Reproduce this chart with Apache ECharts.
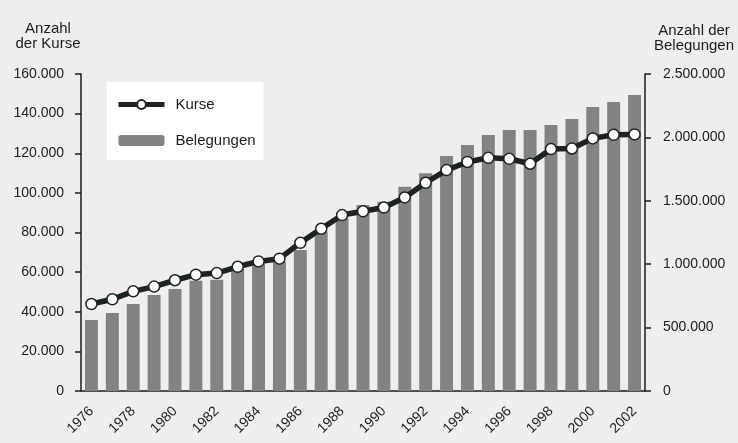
<!DOCTYPE html>
<html>
<head>
<meta charset="utf-8">
<script src="https://cdn.jsdelivr.net/npm/echarts@6/dist/echarts.min.js"></script>
<style>
  html, body { margin: 0; padding: 0; background: #efedee; }
  #main { width: 738px; height: 443px; }
</style>
</head>
<body>
<div id="main"></div>
<script>
// Jahre
const years = ['1976', '1977', '1978', '1979', '1980', '1981', '1982', '1983', '1984',
    '1985', '1986', '1987', '1988', '1989', '1990', '1991', '1992', '1993', '1994',
    '1995', '1996', '1997', '1998', '1999', '2000', '2001', '2002'];

// Anzahl der Kurse (linke Achse)
const kurse = [43900, 46300, 50300, 52700, 55900, 58700, 59500, 62700, 65400,
    66800, 74800, 81900, 88800, 90700, 92600, 97700, 105100, 111500, 115600,
    117700, 117200, 114700, 122100, 122400, 127500, 129300, 129500];

// Anzahl der Belegungen (rechte Achse)
const belegungen = [560000, 615000, 686000, 757000, 804000, 870000, 878000, 962000, 1000000,
    1020000, 1112000, 1256000, 1362000, 1467000, 1493000, 1611000, 1717000, 1853000, 1940000,
    2019000, 2058000, 2058000, 2098000, 2145000, 2240000, 2279000, 2334000];

const chart = echarts.init(document.getElementById('main'), null, { renderer: 'canvas' });

const fmt = v => String(v).replace(/\B(?=(\d{3})+(?!\d))/g, '.');
const font = 'Liberation Sans';

let option = {
    backgroundColor: '#efedee',
    textStyle: { fontFamily: font, color: '#1d1d1b' },
    graphic: [
        {
            type: 'text', x: 48, y: 21,
            style: { text: 'Anzahl\nder Kurse', font: '15px ' + font, fill: '#1d1d1b', align: 'center', lineHeight: 15 }
        },
        {
            type: 'text', x: 694, y: 23,
            style: { text: 'Anzahl der\nBelegungen', font: '15px ' + font, fill: '#1d1d1b', align: 'center', lineHeight: 15 }
        }
    ],
    legend: {
        orient: 'vertical',
        left: 107,
        top: 82,
        backgroundColor: '#ffffff',
        padding: [15, 8, 12, 9],
        itemWidth: 46,
        itemHeight: 11,
        itemGap: 21,
        lineStyle: { width: 5 },
        textStyle: { fontFamily: font, fontSize: 15, color: '#1d1d1b', padding: [0, 0, 0, 6] },
        data: ['Kurse', 'Belegungen']
    },
    grid: { left: 81, right: 93, top: 74, bottom: 52 },
    xAxis: {
        type: 'category',
        data: years,
        boundaryGap: true,
        axisLine: { lineStyle: { color: '#1d1d1b', width: 1.5 } },
        axisTick: { interval: 0, length: 5, lineStyle: { color: '#1d1d1b', width: 1.5 } },
        axisLabel: { interval: 1, rotate: 45, margin: 18, fontSize: 14, color: '#1d1d1b' }
    },
    yAxis: [
        {
            type: 'value',
            min: 0, max: 160000, interval: 20000,
            splitLine: { show: false },
            axisLine: { show: true, lineStyle: { color: '#1d1d1b', width: 1.5 } },
            axisTick: { show: true, length: 6, lineStyle: { color: '#1d1d1b', width: 1.5 } },
            axisLabel: { margin: 17, fontSize: 14, color: '#1d1d1b', formatter: fmt }
        },
        {
            type: 'value',
            min: 0, max: 2500000, interval: 500000,
            splitLine: { show: false },
            axisLine: { show: true, lineStyle: { color: '#1d1d1b', width: 1.5 } },
            axisTick: { show: true, length: 6, lineStyle: { color: '#1d1d1b', width: 1.5 } },
            axisLabel: { margin: 18, fontSize: 14, color: '#1d1d1b', formatter: fmt }
        }
    ],
    series: [
        {
            name: 'Belegungen',
            type: 'bar',
            yAxisIndex: 1,
            data: belegungen,
            barCategoryGap: '38%',
            itemStyle: { color: '#838383' },
            z: 1
        },
        {
            name: 'Kurse',
            type: 'line',
            yAxisIndex: 0,
            data: kurse,
            symbol: 'circle',
            symbolSize: 11,
            lineStyle: { color: '#1d2224', width: 5.5 },
            itemStyle: { color: '#ffffff', borderColor: '#1d2224', borderWidth: 1.5 },
            z: 3
        }
    ]
};

chart.setOption(option);
</script>
</body>
</html>
